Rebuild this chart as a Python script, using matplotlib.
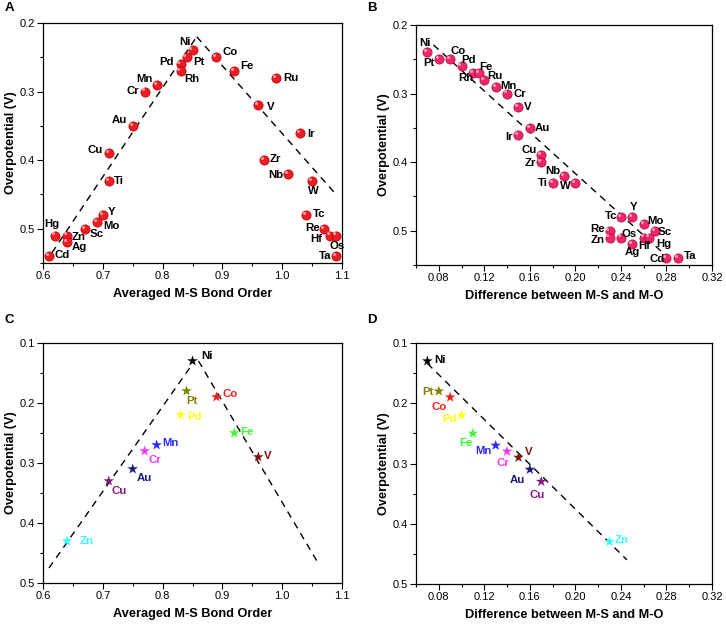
import matplotlib
matplotlib.use("Agg")
import matplotlib.pyplot as plt
from matplotlib.ticker import FixedLocator
from matplotlib.transforms import ScaledTranslation

plt.rcParams['font.family'] = ['Liberation Sans', 'DejaVu Sans']

# ---------------- Panel A data ----------------
a_elems = ['Ni', 'Co', 'Pt', 'Pd', 'Rh', 'Fe', 'Ru', 'Mn', 'Cr', 'V', 'Au', 'Ir', 'Cu', 'Zr', 'Nb',
           'Ti', 'W', 'Y', 'Tc', 'Mo', 'Sc', 'Re', 'Hg', 'Zn', 'Hf', 'Os', 'Ag', 'Cd', 'Ta']
a_bond = [0.85, 0.89, 0.84, 0.83, 0.83, 0.92, 0.99, 0.79, 0.77, 0.96, 0.75, 1.03, 0.71, 0.97, 1.01,
          0.71, 1.05, 0.70, 1.04, 0.69, 0.67, 1.07, 0.62, 0.64, 1.08, 1.09, 0.64, 0.61, 1.09]
a_eta = [0.24, 0.25, 0.25, 0.26, 0.27, 0.27, 0.28, 0.29, 0.30, 0.32, 0.35, 0.36, 0.39, 0.40, 0.42,
         0.43, 0.43, 0.48, 0.48, 0.49, 0.50, 0.50, 0.51, 0.51, 0.51, 0.51, 0.52, 0.54, 0.54]
a_off = [(-8, 8), (14, 5), (12, -5), (-14, 2), (11, -8), (13, 5), (15, 0), (-12, 6), (-12, 1), (12, -2),
         (-13, 6), (11, -1), (-14, 3), (11, 1), (-12, -1), (10, 0), (1, -10), (9, 3), (13, 1), (15, -4),
         (12, -5), (-11, 1), (-3, 12), (12, -1), (-14, -3), (1, -10), (12, -5), (13, 1), (-11, 0)]
a_line_left_x = [0.615, 0.857]
a_line_left_y = [0.535, 0.22]
a_line_right_x = [0.857, 1.09]
a_line_right_y = [0.22, 0.45]

# ---------------- Panel B data ----------------
b_elems = ['Ni', 'Pt', 'Co', 'Pd', 'Rh', 'Fe', 'Ru', 'Mn', 'Cr', 'V', 'Au', 'Ir', 'Cu', 'Zr', 'Nb',
           'Ti', 'W', 'Tc', 'Y', 'Mo', 'Sc', 'Re', 'Zn', 'Os', 'Hf', 'Hg', 'Ag', 'Cd', 'Ta']
b_diff = [0.07, 0.08, 0.09, 0.10, 0.11, 0.115, 0.12, 0.13, 0.14, 0.15, 0.16, 0.15, 0.17, 0.17, 0.19,
          0.18, 0.20, 0.24, 0.25, 0.26, 0.27, 0.23, 0.23, 0.24, 0.26, 0.265, 0.25, 0.28, 0.29]
b_eta = [0.24, 0.25, 0.25, 0.26, 0.27, 0.27, 0.28, 0.29, 0.30, 0.32, 0.35, 0.36, 0.39, 0.40, 0.42,
         0.43, 0.43, 0.48, 0.48, 0.49, 0.50, 0.50, 0.51, 0.51, 0.51, 0.51, 0.52, 0.54, 0.54]
b_off = [(-2, 9), (-10, -4), (8, 8), (7, 6), (-7, -5), (7, 6), (11, 4), (13, 1), (13, 0), (9, 0),
         (12, 0), (-9, -2), (-12, 5), (-11, -1), (-11, 5), (-10, 0), (-10, -3), (-10, 1), (1, 10), (12, 3),
         (10, -1), (-12, 2), (-12, -2), (8, 4), (1, -8), (14, -6), (0, -8), (-9, -1), (12, 2)]
b_line_x = [0.0753, 0.282]
b_line_y = [0.229, 0.54]

# ---------------- Panel C / D data ----------------
cd_elems = ['Ni', 'Pt', 'Co', 'Pd', 'Fe', 'Mn', 'Cr', 'V', 'Au', 'Cu', 'Zn']
cd_colors = ['#000000', '#808000', '#ff1a1a', '#ffff1a', '#33ff33', '#2a2aff', '#ff33ff',
             '#801010', '#1a1a80', '#801a80', '#33ffff']
cd_eta = [0.13, 0.18, 0.19, 0.22, 0.25, 0.27, 0.28, 0.29, 0.31, 0.33, 0.43]
c_bond = [0.85, 0.84, 0.89, 0.83, 0.92, 0.79, 0.77, 0.96, 0.75, 0.71, 0.64]
d_diff = [0.07, 0.08, 0.09, 0.10, 0.11, 0.13, 0.14, 0.15, 0.16, 0.17, 0.23]
c_off = [(14, 5), (5, -10), (14, 3), (14, -2), (13, 1), (14, 2), (10, -9), (9, 1), (12, -9), (10, -10), (20, 0)]
d_off = [(13, 1), (-11, -1), (-11, -10), (-12, -4), (-7, -10), (-12, -6), (-4, -12), (10, 5), (-13, -10), (-4, -13), (12, 2)]
c_line_left_x = [0.61, 0.85]
c_line_left_y = [0.475, 0.135]
c_line_right_x = [0.86, 1.062]
c_line_right_y = [0.13, 0.47]
d_line_x = [0.07, 0.2453]
d_line_y = [0.134, 0.46]

fig = plt.figure(figsize=(7.26, 6.25), dpi=100)
W, H = 726, 625


def make_ax(left, top, right, bottom):
    return fig.add_axes([left / W, 1 - bottom / H, (right - left) / W, (bottom - top) / H])


axA = make_ax(43, 23, 342, 263)
axB = make_ax(416, 25, 712, 265)
axC = make_ax(43, 343, 342, 583)
axD = make_ax(416, 343, 712, 584)

lab_kw = dict(fontsize=9.2, fontweight='bold')
tick_fs = 8


def style(ax, xlim, ylim, xmaj, xmin, ymaj, ymin, xlabel, xfmt):
    ax.set_xlim(*xlim)
    ax.set_ylim(*ylim)
    ax.xaxis.set_major_locator(FixedLocator(xmaj))
    ax.xaxis.set_minor_locator(FixedLocator(xmin))
    ax.yaxis.set_major_locator(FixedLocator(ymaj))
    ax.yaxis.set_minor_locator(FixedLocator(ymin))
    ax.set_xticklabels([xfmt % v for v in xmaj])
    ax.set_yticklabels(['%.1f' % v for v in ymaj])
    ax.tick_params(which='both', direction='out', top=False, right=False, labelsize=tick_fs, width=0.8,
                   pad=2)
    ax.tick_params(which='major', length=4)
    ax.tick_params(which='minor', length=2.5)
    for s in ax.spines.values():
        s.set_linewidth(0.9)
    ax.set_xlabel(xlabel, **lab_kw, labelpad=5)
    ax.set_ylabel('Overpotential (V)', **lab_kw, labelpad=2)


def annotate(ax, xs, ys, names, offs, colors=None):
    for i, (x, y, n, o) in enumerate(zip(xs, ys, names, offs)):
        c = colors[i] if colors else 'black'
        ax.annotate(n, (x, y), xytext=o, textcoords='offset pixels', ha='center', va='center',
                    fontsize=8.2, fontweight='bold', color=c)


def spheres(ax, xs, ys, color, edge):
    ax.scatter(xs, ys, s=44, color=color, edgecolors=edge, linewidths=0.5, zorder=3, clip_on=False)
    hl = ax.transData + ScaledTranslation(-1.5 / 72, 1.5 / 72, fig.dpi_scale_trans)
    ax.scatter(xs, ys, s=5, color='white', alpha=0.55, linewidths=0, zorder=4, clip_on=False,
               transform=hl)


dash = dict(color='black', lw=1.0, ls=(0, (5, 4)))

# Panel A
axA.plot(a_line_left_x, a_line_left_y, **dash)
axA.plot(a_line_right_x, a_line_right_y, **dash)
spheres(axA, a_bond, a_eta, '#ee1c24', '#b00000')
annotate(axA, a_bond, a_eta, a_elems, a_off)
style(axA, (0.6, 1.1), (0.55, 0.2), [0.6, 0.7, 0.8, 0.9, 1.0, 1.1],
      [0.65, 0.75, 0.85, 0.95, 1.05], [0.2, 0.3, 0.4, 0.5], [0.25, 0.35, 0.45, 0.55],
      'Averaged M-S Bond Order', '%.1f')

# Panel B
axB.plot(b_line_x, b_line_y, **dash)
spheres(axB, b_diff, b_eta, '#f0266a', '#b00040')
annotate(axB, b_diff, b_eta, b_elems, b_off)
style(axB, (0.06, 0.32), (0.55, 0.2), [0.08, 0.12, 0.16, 0.20, 0.24, 0.28, 0.32],
      [0.06, 0.10, 0.14, 0.18, 0.22, 0.26, 0.30], [0.2, 0.3, 0.4, 0.5], [0.25, 0.35, 0.45, 0.55],
      'Difference between M-S and M-O', '%.2f')

# Panel C
axC.plot(c_line_left_x, c_line_left_y, **dash)
axC.plot(c_line_right_x, c_line_right_y, **dash)
axC.scatter(c_bond, cd_eta, s=65, marker='*', c=cd_colors, linewidths=0, zorder=3)
annotate(axC, c_bond, cd_eta, cd_elems, c_off, cd_colors)
style(axC, (0.6, 1.1), (0.5, 0.1), [0.6, 0.7, 0.8, 0.9, 1.0, 1.1],
      [0.65, 0.75, 0.85, 0.95, 1.05], [0.1, 0.2, 0.3, 0.4, 0.5], [0.15, 0.25, 0.35, 0.45],
      'Averaged M-S Bond Order', '%.1f')

# Panel D
axD.plot(d_line_x, d_line_y, **dash)
axD.scatter(d_diff, cd_eta, s=65, marker='*', c=cd_colors, linewidths=0, zorder=3)
annotate(axD, d_diff, cd_eta, cd_elems, d_off, cd_colors)
style(axD, (0.06, 0.32), (0.5, 0.1), [0.08, 0.12, 0.16, 0.20, 0.24, 0.28, 0.32],
      [0.06, 0.10, 0.14, 0.18, 0.22, 0.26, 0.30], [0.1, 0.2, 0.3, 0.4, 0.5], [0.15, 0.25, 0.35, 0.45],
      'Difference between M-S and M-O', '%.2f')

for lbl, x, y in [('A', 9, 8), ('B', 372, 8), ('C', 9, 320), ('D', 372, 320)]:
    fig.text(x / W, 1 - y / H, lbl, fontsize=9.5, fontweight='bold', ha='center', va='center')

fig.savefig('out.png', dpi=100)
